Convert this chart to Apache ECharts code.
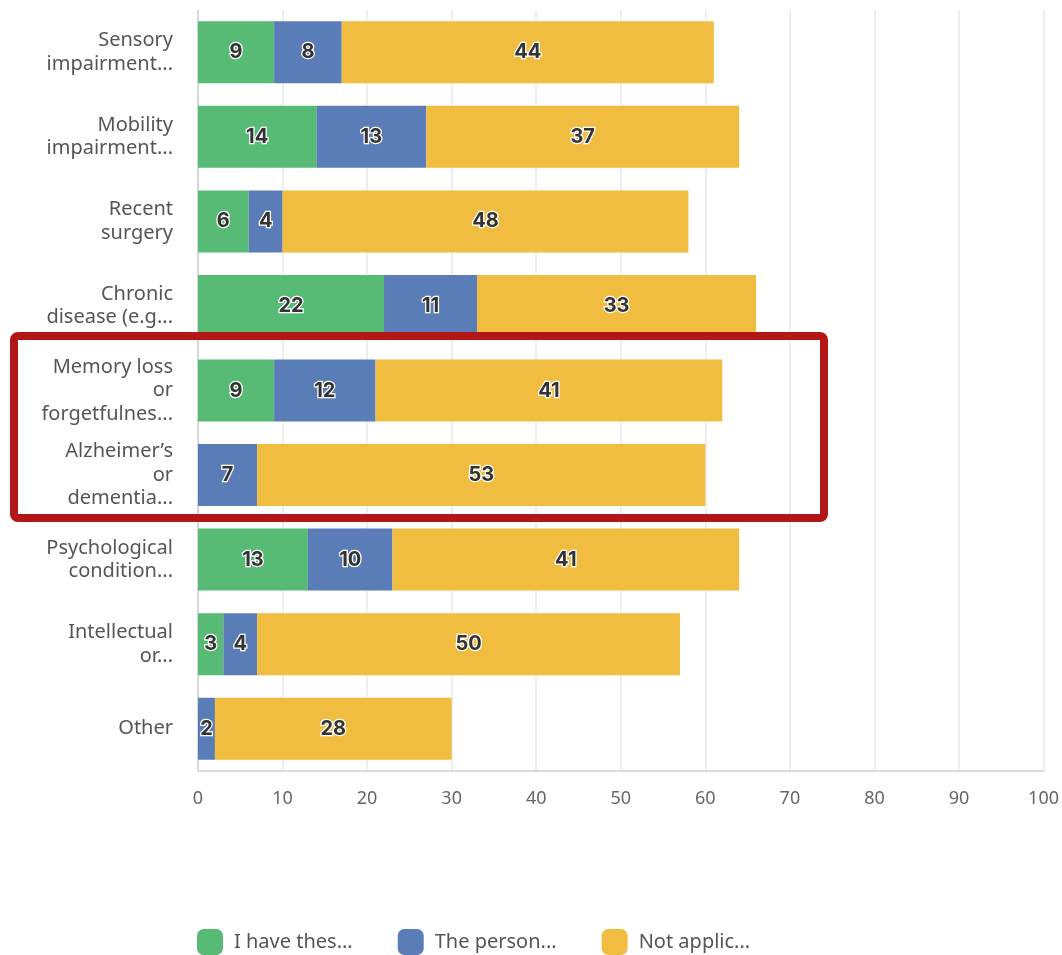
<!DOCTYPE html>
<html>
<head>
<meta charset="utf-8">
<script src="https://cdn.jsdelivr.net/npm/echarts@6/dist/echarts.min.js"></script>
<style>
html,body{margin:0;padding:0;background:#fff;}
#chart{width:1062px;height:955px;}
</style>
</head>
<body>
<div id="chart"></div>
<script>
const categories = [
  "Sensory\nimpairment...",
  "Mobility\nimpairment...",
  "Recent\nsurgery",
  "Chronic\ndisease (e.g...",
  "Memory loss\nor\nforgetfulnes...",
  "Alzheimer\u2019s\nor\ndementia...",
  "Psychological\ncondition...",
  "Intellectual\nor...",
  "Other"
];
const seriesNames = ["I have thes...", "The person...", "Not applic..."];
const haveThese = [9, 14, 6, 22, 9, 0, 13, 3, 0];
const thePerson = [8, 13, 4, 11, 12, 7, 10, 4, 2];
const notApplicable = [44, 37, 48, 33, 41, 53, 41, 50, 28];
const xTicks = { min: 0, max: 100, interval: 10 };
const colors = ["#57bb76", "#5a7cb7", "#f1bd40"];

const chart = echarts.init(document.getElementById('chart'));
const labelStyle = {
  show: true,
  position: 'inside',
  fontFamily: 'Inter',
  fontWeight: 'bold',
  fontSize: 20,
  color: '#333',
  textBorderColor: '#fff',
  textBorderWidth: 2.5,
  formatter: p => (p.value ? String(p.value) : '')
};
function mk(name, data, color) {
  return {
    name, type: 'bar', stack: 'total', data,
    barWidth: 62,
    itemStyle: { color },
    label: labelStyle,
    emphasis: { disabled: true }
  };
}
chart.setOption({
  animation: false,
  textStyle: { fontFamily: 'Noto Sans' },
  grid: { left: 198, right: 17, top: 10, bottom: 184, containLabel: false },
  xAxis: {
    type: 'value', min: xTicks.min, max: xTicks.max, interval: xTicks.interval,
    axisLine: { show: true, lineStyle: { color: '#cfcfcf', width: 1.5 } },
    axisTick: { show: false },
    splitLine: { show: true, lineStyle: { color: '#e9e9ec', width: 1.5 } },
    axisLabel: { color: '#666', fontSize: 18, margin: 19, fontFamily: 'Noto Sans' }
  },
  yAxis: {
    type: 'category', data: categories, inverse: true,
    axisLine: { show: true, lineStyle: { color: '#cfcfcf', width: 1.5 } },
    axisTick: { show: false },
    axisLabel: { color: '#555', fontSize: 20, lineHeight: 23.5, margin: 25, align: 'right', fontFamily: 'Noto Sans' }
  },
  legend: {
    left: 192, top: 924, itemWidth: 26, itemHeight: 26, itemGap: 45,
    icon: 'roundRect',
    textStyle: { color: '#555', fontSize: 20, fontFamily: 'Noto Sans', padding: [0, 0, 0, 6] },
    data: seriesNames
  },
  series: [
    mk(seriesNames[0], haveThese, colors[0]),
    mk(seriesNames[1], thePerson, colors[1]),
    mk(seriesNames[2], notApplicable, colors[2])
  ],
  graphic: [{
    type: 'rect', z: 100,
    shape: { x: 14, y: 336, width: 810, height: 182, r: 4 },
    style: { fill: 'none', stroke: '#b21616', lineWidth: 8 }
  }]
});
</script>
</body>
</html>
